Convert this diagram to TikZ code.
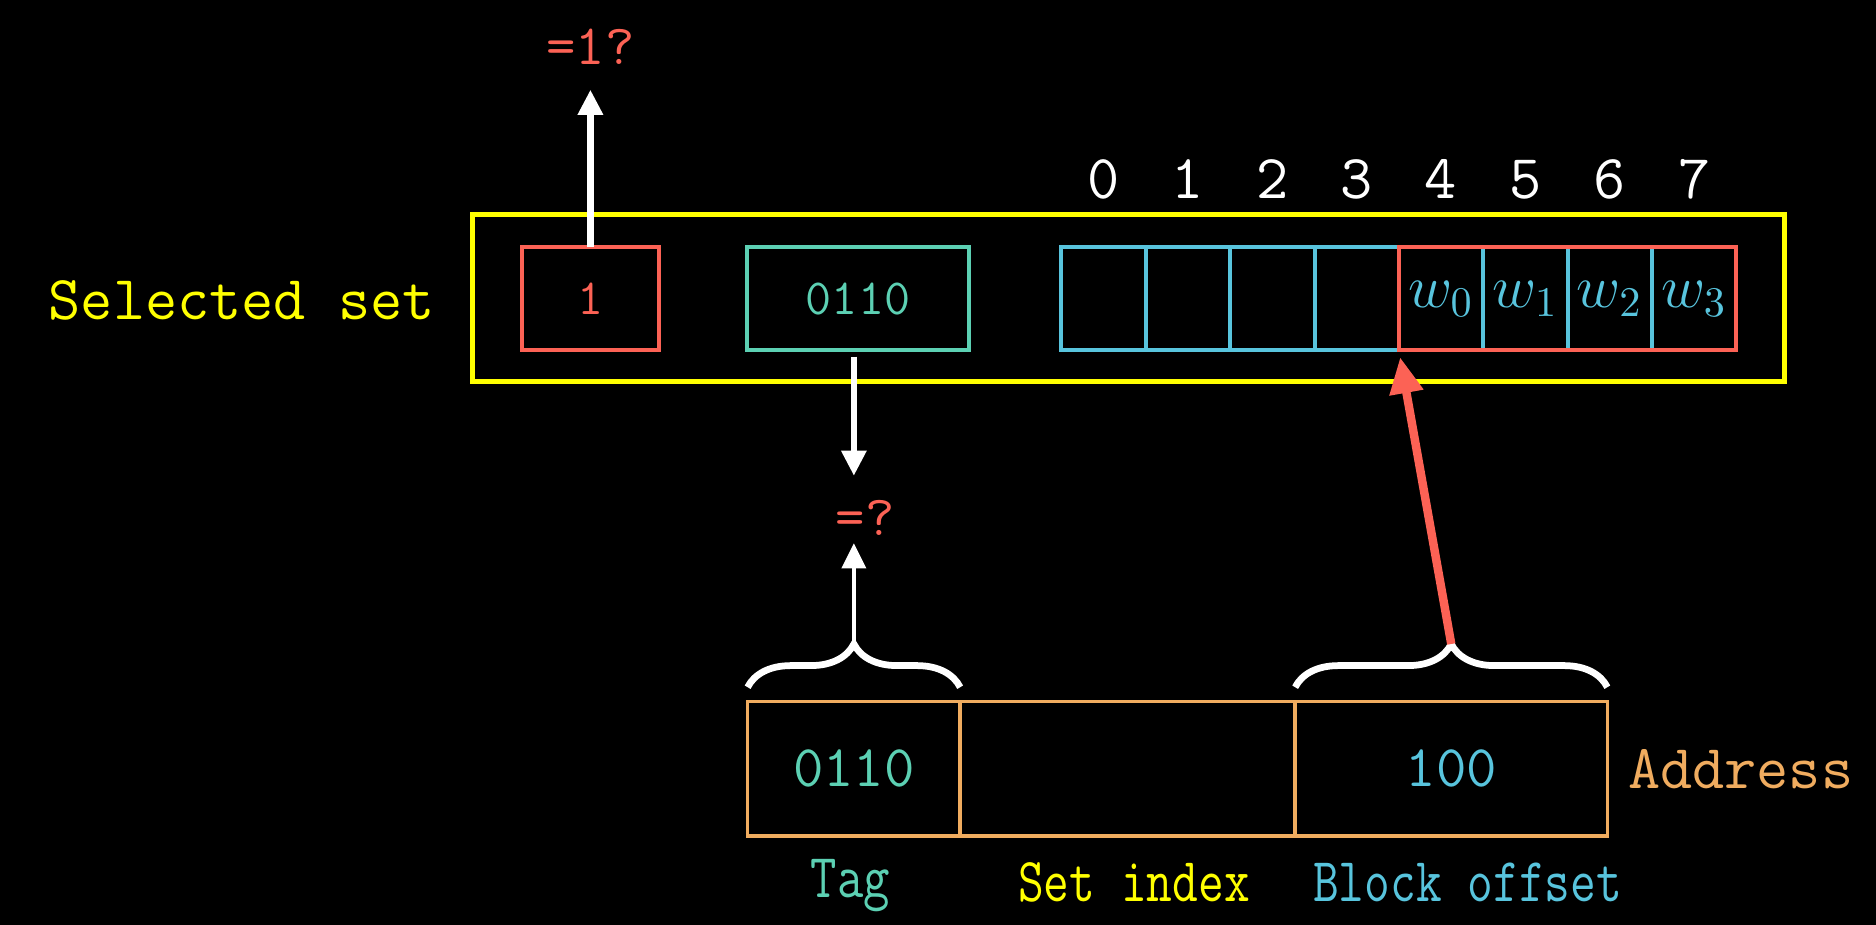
\documentclass[tikz,border=0pt]{standalone}
\usepackage{fontspec}
\usetikzlibrary{arrows.meta,decorations.pathreplacing}
\definecolor{setyellow}{HTML}{FFFF00}
\definecolor{tagteal}{HTML}{5CD0B3}
\definecolor{validred}{HTML}{FC6255}
\definecolor{wordblue}{HTML}{58C4DD}
\definecolor{addrgold}{HTML}{F0AC5F}
\newcommand{\tsize}[1]{\fontsize{#1}{#1}\selectfont\ttfamily}
\begin{document}
\begin{tikzpicture}[x = 0.01cm, y = -0.01cm,
    txt/.style = {inner sep = 0pt, font = \tsize{14.8}},
    box/.style = {draw, line width = 0.95pt, inner sep = 0pt, outer sep = 0pt, minimum height = 0.855cm},
    cell/.style = {box, draw = wordblue, text = wordblue, minimum width = 0.703cm, font = \fontsize{14}{14}\selectfont},
    field/.style = {draw = addrgold, line width = 0.85pt, inner sep = 0pt, outer sep = 0pt, minimum height = 1.12cm, anchor = west, font = \tsize{14}},
    warrow/.style = {draw = white, -{Triangle[width = 0.2cm, length = 0.21cm]}},
    bigbrace/.style = {draw = white, line width = 1.6pt, decorate, decoration = {brace, amplitude = 0.36cm}},
    cond/.style = {txt, anchor = base}]
    \useasboundingbox (0, 0) rectangle (1563.3, 770);
    \fill [black] (-20, -20) rectangle (1583, 790);
    \node [box, draw = setyellow, line width = 1.15pt, minimum width = 10.93cm, minimum height = 1.39cm] (setbox) at (940.5, 248.5) {};
    \node [txt, setyellow, anchor = east] (setlabel) at (363, 250) {Selected set};
    \node [box, draw = validred, text = validred, minimum width = 1.14cm, font = \tsize{12}] (valid) at (492, 249) {1};
    \node [box, draw = tagteal, text = tagteal, minimum width = 1.85cm, font = \tsize{12}] (tagbox) at (715, 249) {0110};
    \foreach \i in {0,...,3}
        \node [cell] (cell\i) at ({919.65 + 70.3*\i}, 249) {};
    \foreach \i [count = \j from 0] in {4,...,7}
        \node [cell] (cell\i) at ({919.65 + 70.3*\i}, 249) {$w_{\j}$};
    \foreach \i in {0,...,7}
        \node [txt, white, anchor = base] (idx\i) at ({919.65 + 70.3*\i}, 165) {\i};
    \draw [validred, line width = 0.95pt] (cell4.north west) rectangle (cell7.south east);

    \node [field, minimum width = 1.77cm, text = tagteal] (addrtag) at (623, 640.7) {0110};
    \node [field, minimum width = 2.79cm] (addrindex) at (addrtag.east) {};
    \node [field, minimum width = 2.6cm, text = wordblue] (addroff) at (addrindex.east) {100};
    \node [txt, addrgold, anchor = west] (addrlabel) at (1356, 641) {Address};
    \node [cond, tagteal] (taglabel) at (708.6, 748) {\scalebox{0.82}[1]{Tag}};
    \node [cond, setyellow] (indexlabel) at (945, 751) {\scalebox{0.8}[1]{Set index}};
    \node [cond, wordblue] (offlabel) at (1223, 751) {\scalebox{0.8}[1]{Block offset}};

    \node [txt, validred, anchor = base, font = \tsize{13.5}] (eqvalid) at (492, 54) {=1?};
    \node [txt, validred, anchor = base, font = \tsize{13.5}] (eqtag) at (721, 446) {=?};
    \draw [bigbrace] ([yshift = 0.12cm]addrtag.north west) -- ([yshift = 0.12cm]addrtag.north east);
    \draw [bigbrace] ([yshift = 0.12cm]addroff.north west) -- ([yshift = 0.12cm]addroff.north east);
    \coordinate (tagtip) at ([yshift = 0.48cm]addrtag.north);
    \coordinate (offtip) at ([yshift = 0.48cm]addroff.north);

    \draw [warrow, line width = 1.7pt, shorten > = 0.2cm] (valid.north) -- (eqvalid.south);
    \draw [warrow, line width = 1.45pt, shorten < = 0.055cm, shorten > = 0.195cm] (tagbox.south -| tagtip) -- (eqtag.north -| tagtip);
    \draw [warrow, line width = 0.9pt, shorten > = 0.06cm] (tagtip) -- (eqtag.south -| tagtip);
    \draw [validred, line width = 2pt, -{Triangle[width = 0.27cm, length = 0.3cm]}, shorten > = 0.06cm] (offtip) -- (cell4.south west);
\end{tikzpicture}
\end{document}
